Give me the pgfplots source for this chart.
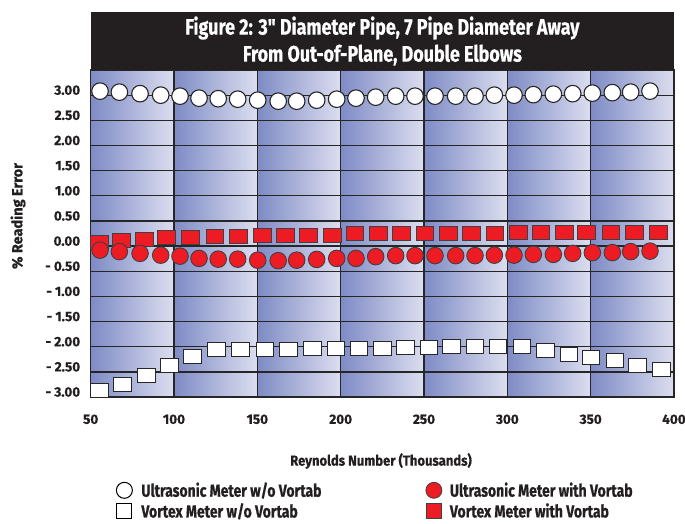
\documentclass[border=0pt]{standalone}
\usepackage{fontspec}
\setmainfont{Fira Sans}[BoldFeatures={FakeBold=0.6}]
\newfontfamily\fT{Fira Sans}[FakeStretch=0.8, BoldFeatures={FakeBold=0.6}]
\newfontfamily\fX{Fira Sans}[FakeStretch=0.9, BoldFeatures={FakeBold=0.6}]
\usepackage{pgfplots}
\pgfplotsset{compat=1.18}

\definecolor{bgL}{HTML}{7E8BC5}
\definecolor{bgR}{HTML}{DCDEEF}
\definecolor{gridc}{HTML}{262626}
\definecolor{redm}{HTML}{ED1C24}
\definecolor{titlebg}{HTML}{231F20}
\definecolor{txt}{HTML}{231F20}

\begin{document}
\begin{tikzpicture}
\begin{axis}[
    set layers=standard,
    scale only axis,
    width=583.3pt, height=327pt,
    at={(0pt,0pt)}, anchor=south west,
    xmin=50, xmax=400, ymin=-3, ymax=3.5,
    xtick={50,100,...,400},
    xticklabels={50,100,150,200,250,300,350,400},
    ytick={-3,-2.5,...,3},
    yticklabels={- 3.00,- 2.50,- 2.00,- 1.50,- 1.00,- 0.50,0.00,0.50,1.00,1.50,2.00,2.50,3.00},
    major tick length=0pt,
    grid=major,
    major grid style={draw=gridc, line width=1.3pt},
    axis line style={draw=gridc, line width=1.3pt},
    tick label style={font=\fontsize{13.5}{16}\selectfont\bfseries, text=txt},
    /pgf/number format/assume math mode=true,
    yticklabel style={xshift=-7pt, yshift=5pt},
    xticklabel style={yshift=-14pt},
    xlabel={Reynolds Number (Thousands)},
    xlabel style={at={(axis description cs:0.4977,-0.1957)}, anchor=center, font=\fX\fontsize{14.5}{16}\selectfont\bfseries, text=txt},
    ylabel={\% Reading Error},
    ylabel style={at={(axis description cs:-0.1246,0.5535)}, anchor=center, font=\fontsize{14.5}{16}\selectfont\bfseries, text=txt},
    legend columns=2,
    legend cell align=left,
    legend style={at={(axis description cs:0.0437,-0.2545)}, anchor=north west,
        draw=none, fill=none, inner sep=0pt, row sep=1pt,
        font=\fT\fontsize{17.5}{19}\selectfont\bfseries, text=txt},
]

\begin{pgfonlayer}{axis background}
\shade[left color=bgL, right color=bgR] (axis cs:50,-3) rectangle (axis cs:100,3.5);
\shade[left color=bgL, right color=bgR] (axis cs:100,-3) rectangle (axis cs:150,3.5);
\shade[left color=bgL, right color=bgR] (axis cs:150,-3) rectangle (axis cs:200,3.5);
\shade[left color=bgL, right color=bgR] (axis cs:200,-3) rectangle (axis cs:250,3.5);
\shade[left color=bgL, right color=bgR] (axis cs:250,-3) rectangle (axis cs:300,3.5);
\shade[left color=bgL, right color=bgR] (axis cs:300,-3) rectangle (axis cs:350,3.5);
\shade[left color=bgL, right color=bgR] (axis cs:350,-3) rectangle (axis cs:400,3.5);
\end{pgfonlayer}

% Ultrasonic Meter w/o Vortab
\addplot[only marks, mark=*, mark size=8.3pt, forget plot,
    mark options={fill=white, draw=gridc, line width=1.1pt}] coordinates {
(55.6,3.08) (67.2,3.06) (79.6,3.03) (92.0,3.00) (103.6,2.98) (115.0,2.94)
(126.5,2.93) (138.2,2.92) (150.2,2.90) (162.5,2.88) (173.6,2.88) (185.6,2.90)
(197.6,2.92) (209.2,2.94) (221.0,2.96) (233.0,2.98) (244.6,2.98) (256.6,2.98)
(269.0,2.98) (280.6,2.98) (292.2,3.00) (304.0,3.00) (315.6,3.01) (327.6,3.02)
(339.2,3.03) (351.0,3.04) (363.0,3.05) (374.0,3.06) (385.6,3.08)
};

% Vortex Meter w/o Vortab
\addplot[only marks, mark=square*, mark size=7pt, forget plot,
    mark options={xscale=1.25, fill=white, draw=gridc, line width=1.1pt}] coordinates {
(55.2,-2.87) (69.2,-2.76) (83.6,-2.57) (97.2,-2.38) (111.2,-2.20) (125.6,-2.06)
(140.0,-2.06) (154.6,-2.05) (168.6,-2.05) (183.0,-2.03) (197.2,-2.03) (211.0,-2.03)
(225.0,-2.03) (239.0,-2.01) (253.0,-2.01) (266.6,-2.00) (280.6,-2.00) (294.5,-2.00)
(308.9,-2.00) (323.0,-2.08) (337.0,-2.16) (350.2,-2.22) (364.6,-2.28) (378.0,-2.38)
(392.6,-2.46)
};

% Vortex Meter with Vortab
\addplot[only marks, mark=square*, mark size=7pt, forget plot,
    mark options={xscale=1.25, fill=redm, draw=black!75, line width=0.9pt}] coordinates {
(55.2,0.07) (68.6,0.105) (82.2,0.14) (95.6,0.17) (110.0,0.17) (124.6,0.185)
(138.6,0.185) (153.0,0.22) (167.0,0.22) (180.6,0.22) (195.0,0.22) (208.6,0.25)
(222.6,0.25) (236.6,0.26) (250.6,0.25) (264.6,0.26) (278.6,0.25) (292.6,0.25)
(306.6,0.27) (320.2,0.28) (334.2,0.28) (347.6,0.27) (362.2,0.28) (376.2,0.28)
(390.6,0.28)
};

% Ultrasonic Meter with Vortab
\addplot[only marks, mark=*, mark size=8.3pt, forget plot,
    mark options={fill=redm, draw=black!75, line width=0.9pt}] coordinates {
(55.6,-0.08) (67.2,-0.11) (79.6,-0.145) (92.0,-0.18) (103.6,-0.20) (115.0,-0.245)
(126.5,-0.26) (138.2,-0.26) (150.2,-0.28) (162.5,-0.29) (173.6,-0.28) (185.6,-0.265)
(197.6,-0.245) (209.2,-0.245) (221.0,-0.21) (233.0,-0.19) (244.6,-0.19) (256.6,-0.19)
(269.0,-0.19) (280.6,-0.19) (292.2,-0.18) (304.0,-0.18) (315.6,-0.165) (327.6,-0.165)
(339.2,-0.145) (351.0,-0.13) (363.0,-0.13) (374.0,-0.11) (385.6,-0.10)
};

\addlegendimage{only marks, mark=*, mark size=8pt, mark options={fill=white, draw=black, line width=1pt}}
\addlegendentry{\makebox[289.5pt][l]{\hspace{7pt}Ultrasonic Meter w/o Vortab}}
\addlegendimage{only marks, mark=*, mark size=8pt, mark options={fill=redm, draw=black!75, line width=0.8pt}}
\addlegendentry{\hspace{6pt}Ultrasonic Meter with Vortab}
\addlegendimage{only marks, mark=square*, mark size=7.5pt, mark options={fill=white, draw=black, line width=1pt}}
\addlegendentry{\makebox[289.5pt][l]{\hspace{7pt}Vortex Meter w/o Vortab}}
\addlegendimage{only marks, mark=square*, mark size=7.5pt, mark options={fill=redm, draw=black!75, line width=0.8pt}}
\addlegendentry{\hspace{6pt}Vortex Meter with Vortab}
\end{axis}

\fill[titlebg] (0pt,327pt) rectangle (583.3pt,385pt);
\node[text=white, align=center, font=\fT\fontsize{22.4}{27}\selectfont\bfseries]
    at (291.7pt,356pt) {Figure 2: 3" Diameter Pipe, 7 Pipe Diameter Away\\From Out-of-Plane, Double Elbows};

\pgfresetboundingbox
\path[use as bounding box] (-90.7pt,-126pt) rectangle (594.3pt,397pt);
\end{tikzpicture}
\end{document}
